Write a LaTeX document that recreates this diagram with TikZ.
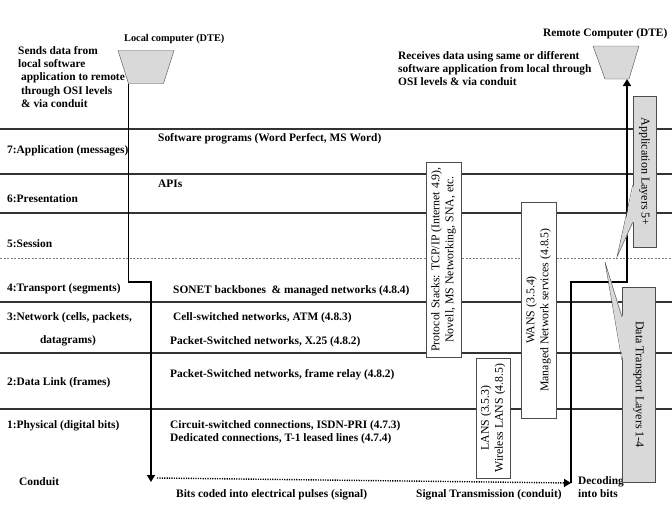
\documentclass[tikz,border=0pt]{standalone}
\usepackage{fontspec}
\setmainfont{Liberation Serif}
\usetikzlibrary{arrows.meta, positioning}

\begin{document}
\begin{tikzpicture}[x=1pt, y=-1pt, >={Triangle[length=7pt,width=8pt]},
  txt/.style={font=\fontsize{11.4}{13.3}\selectfont\bfseries, inner sep=0pt, anchor=west},
  layerline/.style={line width=1.3pt, black!80},
  flow/.style={line width=1.6pt, black},
  signal/.style={line width=1.4pt, dash pattern=on 1.2pt off 1.2pt},
  computer/.style={draw=black!70, fill=gray!30},
  stackbox/.style={draw=black!70, fill=white, rotate=90, align=center, inner sep=0pt,
    font=\fontsize{11.8}{14}\selectfont},
  layerbox/.style={draw=black!70, fill=gray!30, inner sep=0pt,
    font=\fontsize{12}{14}\selectfont},
  pointer/.style={draw=black!70, line width=0.4pt}]
\useasboundingbox (0,0) rectangle (672,504);

% OSI levels
\foreach \y in {129,174,213,302,353,409}
  \draw[layerline] (0,\y) -- (672,\y);
\draw[gray, line width=0.4pt, dash pattern=on 2pt off 1.5pt] (0,258) -- (672,258);

\node[txt] (app)  at (7,151) {7:Application (messages)};
\node[txt] (pres) at (7,199) {6:Presentation};
\node[txt] (sess) at (7,244) {5:Session};
\node[txt] (trans) at (7,289) {4:Transport (segments)};
\node[txt] (netw) at (7,318) {3:Network (cells, packets,};
\node[txt, anchor=center] (netw2) at (68,341) {datagrams)};
\node[txt] (link) at (7,383) {2:Data Link (frames)};
\node[txt] (phys) at (7,426) {1:Physical (digital bits)};
\node[txt] (cond) at (19,482) {Conduit};

% computers
\filldraw[computer] (118,50.5) -- (174,50.5) -- (163.5,83.5) -- (128.5,83.5) -- cycle;
\coordinate (local) at (128.5,83.5);
\filldraw[computer] (593,46) -- (639,46) -- (629,79) -- (605,79) -- cycle;
\coordinate (remote) at (627,79);
\node[txt, font=\fontsize{10.3}{12}\selectfont\bfseries] (locallbl) at (124,39) {Local computer (DTE)};
\node[txt] (remotelbl) at (543,34) {Remote Computer (DTE)};
\node[txt, anchor=north west, align=left] (sends) at (18,46)
  {Sends data from\\local software\\\hspace{3pt}application to remote\\\hspace{3pt}through OSI levels\\\hspace{3pt}\& via conduit};
\node[txt, anchor=north west, align=left] (receives) at (398,51)
  {Receives data using same or different\\software application from local through\\OSI levels \& via conduit};

% examples per level
\node[txt] (soft) at (158,139) {Software programs (Word Perfect, MS Word)};
\node[txt] (apis) at (158,184) {APIs};
\node[txt] (sonet) at (173,291) {SONET backbones \ \& managed networks (4.8.4)};
\node[txt] (atm) at (173,318) {Cell-switched networks, ATM (4.8.3)};
\node[txt] (x25) at (170,342) {Packet-Switched networks, X.25 (4.8.2)};
\node[txt] (frame) at (170,375) {Packet-Switched networks, frame relay (4.8.2)};
\node[txt] (isdn) at (170,426) {Circuit-switched connections, ISDN-PRI (4.7.3)};
\node[txt] (t1) at (170,439) {Dedicated connections, T-1 leased lines (4.7.4)};
\node[txt] (bits) at (176,495) {Bits coded into electrical pulses (signal)};
\node[txt] (trm) at (416,495) {Signal Transmission (conduit)};
\node[txt, anchor=north west, align=left] (decode) at (578,476) {Decoding\\into bits};

% vertical boxes
\node[stackbox, minimum width=195pt, minimum height=35pt] (stacks) at (443.5,259.5)
  {Protocol Stacks: TCP/IP (Internet 4.9),\\Novell, MS Networking, SNA, etc.};
\node[stackbox, minimum width=216pt, minimum height=35pt] (wans) at (538.5,310)
  {WANS (3.5.4)\\Managed Network services (4.8.5)};
\node[stackbox, minimum width=120pt, minimum height=34pt] (lans) at (493,418)
  {LANS (3.5.3)\\Wireless LANS (4.8.5)};

% data path
\coordinate (turnL) at (151,282);
\coordinate (conduitL) at (151,482);
\coordinate (signalL) at (157,478);
\coordinate (conduitR) at (571,483);
\coordinate (turnR) at (627,282);
\draw[flow,->] (local) |- (turnL) -- (conduitL);
\draw[signal,->] (signalL) -- (conduitR);
\draw[flow,->] (conduitR) |- (turnR) -- (remote);

% layer groups
\node[layerbox, minimum width=23pt, minimum height=151pt] (upper) at (644.5,171.5)
  {\rotatebox{-90}{Application Layers 5+}};
\node[layerbox, minimum width=33pt, minimum height=195pt] (lower) at (638.5,384.5)
  {\rotatebox{-90}{Data Transport Layers 1-4}};
\coordinate (uppertip) at (617,257);
\coordinate (lowertip) at (605,262);
\fill[gray!30] ([xshift=1pt,yshift=-89pt]upper.north west) -- (uppertip)
  -- ([xshift=1pt,yshift=-126pt]upper.north west) -- cycle;
\draw[pointer] ([yshift=-89pt]upper.north west) -- (uppertip) -- ([yshift=-126pt]upper.north west);
\fill[gray!30] ([xshift=1pt,yshift=-30pt]lower.north west) -- (lowertip)
  -- ([xshift=1pt,yshift=-73pt]lower.north west) -- cycle;
\draw[pointer] ([yshift=-30pt]lower.north west) -- (lowertip) -- ([yshift=-73pt]lower.north west);
\end{tikzpicture}
\end{document}
